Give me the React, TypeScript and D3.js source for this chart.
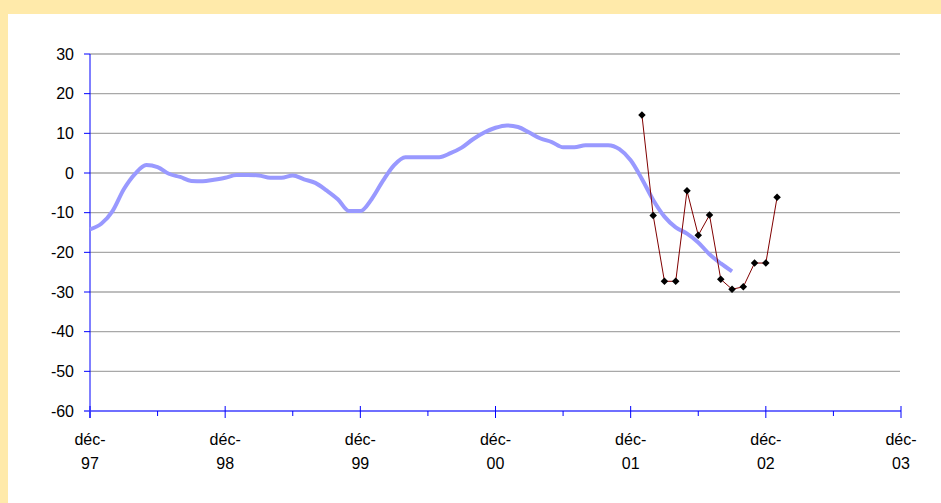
import React from "react";
import * as d3 from "d3";

// Month index 0 = déc-97
const yearLabels = ["97", "98", "99", "00", "01", "02", "03"];
const yTicks = [30, 20, 10, 0, -10, -20, -30, -40, -50, -60];

const blueStart = 0;
const blueValues = [
  -14.2, -12.8, -9.6, -4.1, -0.2, 2.0, 1.5, -0.2, -1.0, -2.0, -2.1, -1.7,
  -1.2, -0.5, -0.5, -0.6, -1.2, -1.2, -0.6, -1.6, -2.5, -4.4, -6.6, -9.6,
  -9.6, -6.6, -2.0, 2.0, 4.0, 4.0, 4.0, 4.0, 5.0, 6.4, 8.5, 10.2,
  11.4, 12.0, 11.6, 10.2, 8.7, 7.8, 6.5, 6.5, 7.0, 7.0, 7.0, 6.0,
  3.2, -1.5, -6.8, -11.0, -13.7, -15.3, -17.5, -20.5, -22.8, -24.8,
];

const redStart = 49;
const redValues = [
  14.6, -10.7, -27.3, -27.3, -4.5, -15.7, -10.6, -26.8, -29.3, -28.7, -22.7,
  -22.7, -6.1,
];

const W = 941;
const H = 503;
const left = 90;
const right = 901;
const top = 54;
const bottom = 411;

export default function App() {
  const x = d3.scaleLinear().domain([0, 72]).range([left, right]);
  const y = d3.scaleLinear().domain([-60, 30]).range([bottom, top]);

  const blueLine = d3
    .line<number>()
    .x((_, i) => x(blueStart + i))
    .y((d) => y(d))
    .curve(d3.curveMonotoneX);
  const redLine = d3
    .line<number>()
    .x((_, i) => x(redStart + i))
    .y((d) => y(d));

  const majors = d3.range(0, 73, 12);
  const minors = d3.range(6, 72, 12);
  const diamond = d3.symbol().type(d3.symbolDiamond2).size(36)();

  return (
    <svg
      width={W}
      height={H}
      style={{ position: "absolute", left: 0, top: 0 }}
      fontFamily="'Liberation Sans', Arial, sans-serif"
    >
      <rect x={0} y={0} width={W} height={H} fill="#FFEAAA" />
      <rect x={8} y={14} width={W - 8} height={H - 14} fill="#FFFFFF" />

      {yTicks
        .filter((t) => t !== -60)
        .map((t) => (
          <line
            key={"g" + t}
            x1={left}
            x2={right - 1}
            y1={y(t)}
            y2={y(t)}
            stroke="#A8A8A8"
            strokeWidth={1.3}
          />
        ))}

      {/* y axis */}
      <line x1={left} x2={left} y1={top} y2={bottom + 7} stroke="#0000FF" strokeWidth={1} />
      {yTicks.map((t) => (
        <g key={"yt" + t}>
          <line x1={left - 6} x2={left} y1={y(t)} y2={y(t)} stroke="#0000FF" strokeWidth={1} />
          <text x={74} y={y(t)} dy="0.36em" textAnchor="end" fontSize={16} fill="#000">
            {t}
          </text>
        </g>
      ))}

      {/* x axis */}
      <line x1={left - 6} x2={right} y1={bottom} y2={bottom} stroke="#6F6FFF" strokeWidth={2} />
      {majors.map((m, i) => (
        <g key={"mx" + m}>
          <line x1={x(m)} x2={x(m)} y1={bottom - 5} y2={bottom + 7} stroke="#0000FF" strokeWidth={1} />
          <text x={x(m)} y={445} textAnchor="middle" fontSize={16} fill="#000">
            déc-
          </text>
          <text x={x(m)} y={469} textAnchor="middle" fontSize={16} fill="#000">
            {yearLabels[i]}
          </text>
        </g>
      ))}
      {minors.map((m) => (
        <line key={"mn" + m} x1={x(m)} x2={x(m)} y1={bottom} y2={bottom + 5} stroke="#0000FF" strokeWidth={1} />
      ))}

      <path d={blueLine(blueValues) || ""} fill="none" stroke="#9999FF" strokeWidth={4} strokeLinejoin="round" />
      <path d={redLine(redValues) || ""} fill="none" stroke="#800000" strokeWidth={1} />
      {redValues.map((v, i) => (
        <path
          key={"d" + i}
          d={diamond || ""}
          transform={`translate(${x(redStart + i)},${y(v)})`}
          fill="#000"
        />
      ))}
    </svg>
  );
}
